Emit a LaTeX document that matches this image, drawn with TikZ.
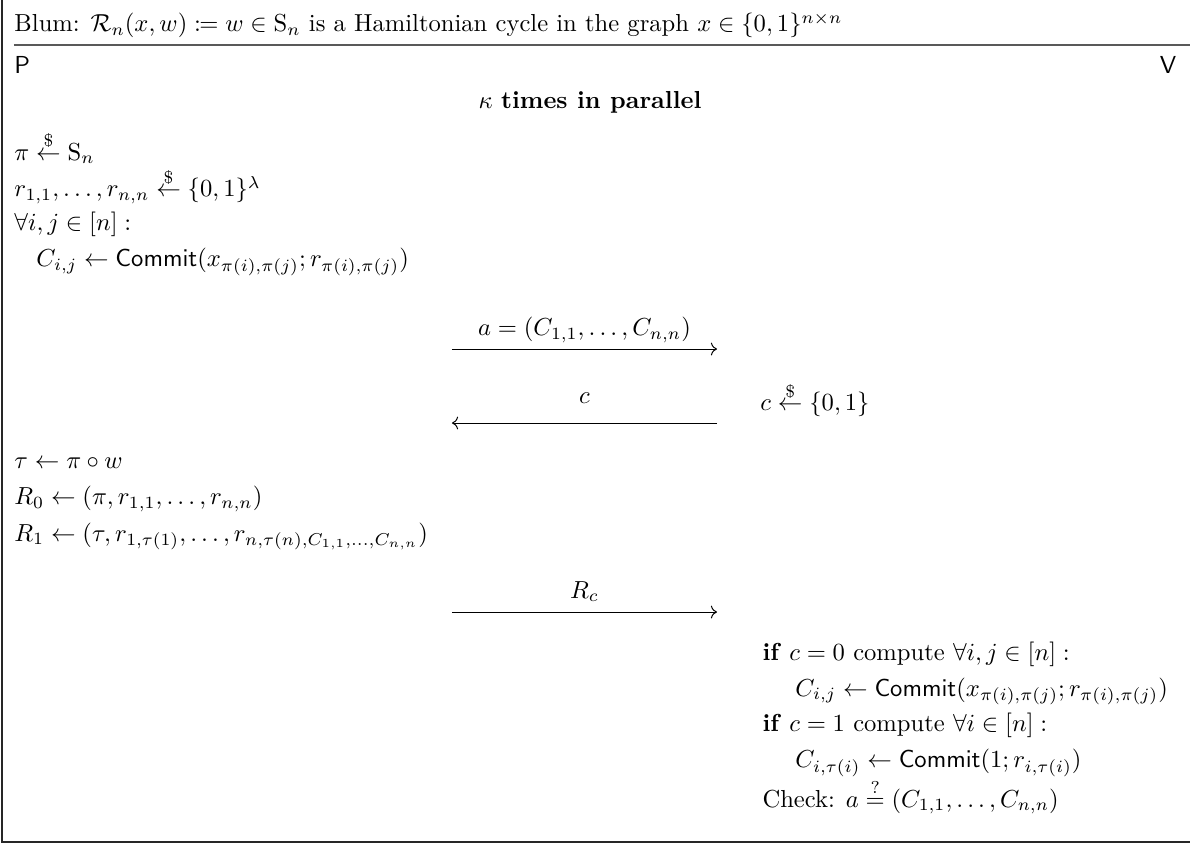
\documentclass[tikz,border=0pt]{standalone}
\usepackage{amsmath,amssymb,mathtools}
\usepackage{tikz}
\usetikzlibrary{arrows.meta,positioning}

\begin{document}
\begin{tikzpicture}[
  txt/.style={anchor=base west,inner sep=0pt},
  lbl/.style={anchor=base,inner sep=0pt},
  msg/.style={->,line width=0.4pt},
  frame/.style={line width=0.6pt,draw=black!85},
  rule/.style={line width=0.5pt,draw=black!65}
]
\useasboundingbox (0,0) rectangle (17,-12.057);
\draw[frame] (0.03,0) -- (0.03,-12.03) -- (17,-12.03);
\node[txt] (title) at (0.2,-0.457)
  {Blum: $\mathcal{R}_n(x,w) \coloneqq w \in \mathrm{S}_n$ is a Hamiltonian cycle in the graph $x \in \{0,1\}^{n\times n}$};
\draw[rule] (0.2,-0.643) -- (17,-0.643);
\node[txt] (prover) at (0.2,-1.057) {\textsf{P}};
\node[anchor=base east,inner sep=0pt] (verifier) at (16.81,-1.057) {\textsf{V}};
\node[lbl] (kappa) at (8.43,-1.543) {$\kappa$ \textbf{times in parallel}};

\node[txt] (perm) at (0.2,-2.286) {$\pi \overset{\$}{\leftarrow} \mathrm{S}_n$};
\node[txt] (rand) at (0.2,-2.814) {$r_{1,1},\ldots,r_{n,n} \overset{\$}{\leftarrow} \{0,1\}^\lambda$};
\node[txt] (forall) at (0.2,-3.3) {$\forall i,j \in [n]:$};
\node[txt] (commit) at (0.514,-3.814) {$C_{i,j} \leftarrow \mathsf{Commit}(x_{\pi(i),\pi(j)};r_{\pi(i),\pi(j)})$};

\coordinate (m1l) at (6.457,-4.986);
\coordinate (m1r) at (10.243,-4.986);
\draw[msg] (m1l) -- (m1r);
\node[lbl] (m1lab) at (8.35,-4.8) {$a = (C_{1,1},\ldots,C_{n,n})$};

\coordinate (m2l) at (6.457,-6.043);
\coordinate (m2r) at (10.243,-6.043);
\draw[msg] (m2r) -- (m2l);
\node[lbl] (m2lab) at (8.35,-5.771) {$c$};
\node[txt] (chal) at (10.857,-5.871) {$c \overset{\$}{\leftarrow} \{0,1\}$};

\node[txt] (tau) at (0.2,-6.686) {$\tau \leftarrow \pi \circ w$};
\node[txt] (resp0) at (0.2,-7.214) {$R_0 \leftarrow (\pi, r_{1,1},\ldots,r_{n,n})$};
\node[txt] (resp1) at (0.2,-7.729) {$R_1 \leftarrow (\tau, r_{1,\tau(1)},\ldots,r_{n,\tau(n),C_{1,1},\ldots,C_{n,n}})$};

\coordinate (m3l) at (6.457,-8.743);
\coordinate (m3r) at (10.243,-8.743);
\draw[msg] (m3l) -- (m3r);
\node[lbl] (m3lab) at (8.35,-8.543) {$R_c$};

\node[txt] (case0) at (10.886,-9.429) {\textbf{if} $c=0$ compute $\forall i,j \in [n]:$};
\node[txt] (recom0) at (11.357,-9.943) {$C_{i,j} \leftarrow \mathsf{Commit}(x_{\pi(i),\pi(j)};r_{\pi(i),\pi(j)})$};
\node[txt] (case1) at (10.886,-10.457) {\textbf{if} $c=1$ compute $\forall i \in [n]:$};
\node[txt] (recom1) at (11.357,-10.971) {$C_{i,\tau(i)} \leftarrow \mathsf{Commit}(1;r_{i,\tau(i)})$};
\node[txt] (check) at (10.886,-11.529) {Check: $a \overset{?}{=} (C_{1,1},\ldots,C_{n,n})$};
\end{tikzpicture}
\end{document}
